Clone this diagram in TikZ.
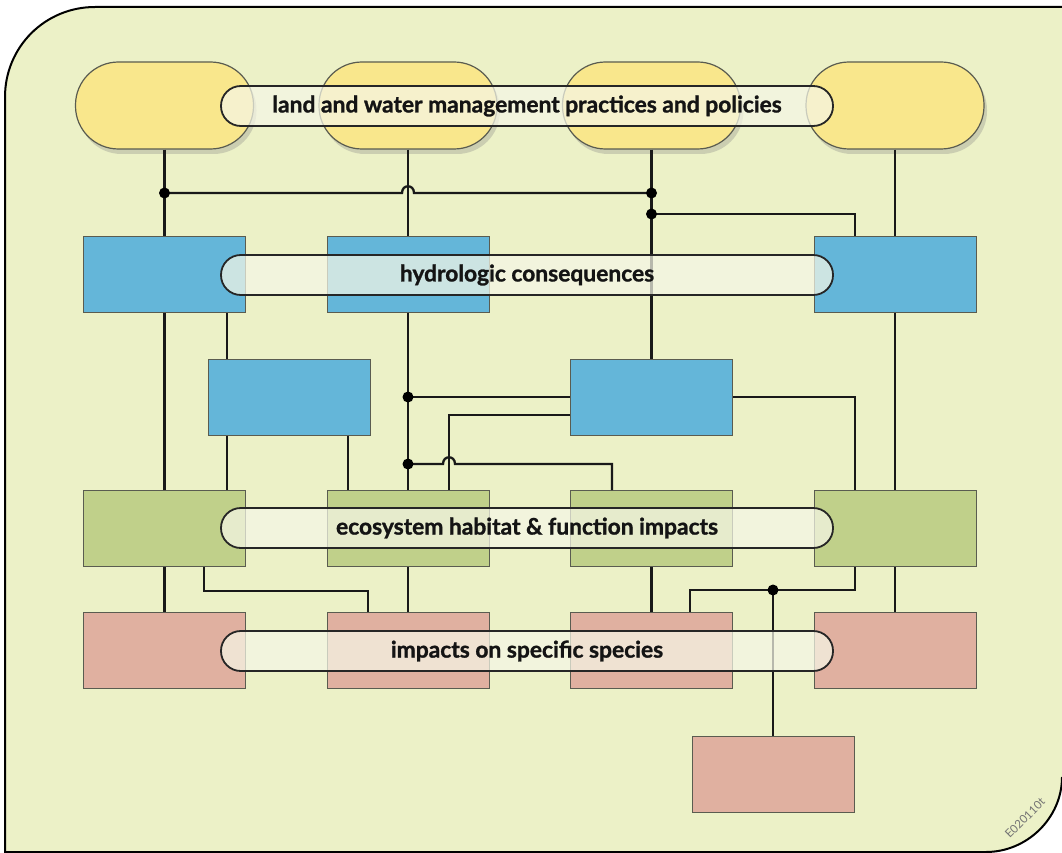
\documentclass[tikz,border=0pt]{standalone}
\usepackage{fontspec}
\setmainfont{Lato}
\newfontfamily\lblfont{Lato}[BoldFeatures={FakeBold=1.2}]
\usetikzlibrary{shadows}
\definecolor{bggreen}{RGB}{236,241,199}
\definecolor{mgmtyellow}{RGB}{249,231,140}
\definecolor{hydroblue}{RGB}{100,182,217}
\definecolor{ecogreen}{RGB}{192,208,138}
\definecolor{speciespink}{RGB}{224,176,160}
\definecolor{lblcream}{RGB}{245,246,230}
\definecolor{boxedge}{RGB}{90,92,80}

\begin{document}
\begin{tikzpicture}[x=1pt,y=-1pt,
  mgmt/.style={draw=boxedge, line width=1.2pt, fill=mgmtyellow, rounded corners=43pt,
    minimum width=178pt, minimum height=87pt,
    drop shadow={shadow xshift=3pt, shadow yshift=-5pt, opacity=0.3}},
  box/.style={draw=boxedge, line width=1pt, minimum width=162pt, minimum height=76pt},
  hydro/.style={box, fill=hydroblue},
  eco/.style={box, fill=ecogreen},
  spec/.style={box, fill=speciespink},
  lbl/.style={draw=black!85, line width=1.8pt, fill=lblcream, fill opacity=0.72, text opacity=1,
    rounded corners=19.8pt, minimum width=612pt, minimum height=40pt,
    font=\lblfont\bfseries\fontsize{22.8}{26}\selectfont, text=black!92},
  link/.style={line width=2.3pt, draw=black!90}]
\useasboundingbox (0,0) rectangle (1062,853);
% background panel
\fill[bggreen] (1062,7) -- (95,7) .. controls (45,7) and (5,47) .. (5,97) -- (5,852)
  -- (986,852) .. controls (1027,852) and (1062,818) .. (1062,777) -- cycle;
\draw[line width=2pt] (1062,7) -- (95,7) .. controls (45,7) and (5,47) .. (5,97) -- (5,852)
  -- (986,852) .. controls (1027,852) and (1062,818) .. (1062,777);

% practices and policies
\node[mgmt] (p1) at (164.5,105.5) {};
\node[mgmt] (p2) at (408,105.5) {};
\node[mgmt] (p3) at (651.5,105.5) {};
\node[mgmt] (p4) at (895,105.5) {};

% hydrologic consequences
\node[hydro] (h1) at (164.5,274) {};
\node[hydro] (h2) at (408,274) {};
\node[hydro] (h4) at (895,274) {};
\node[hydro] (hA) at (289,397) {};
\node[hydro] (hB) at (651.5,397) {};

% ecosystem impacts
\node[eco] (e1) at (164.5,528.5) {};
\node[eco] (e2) at (408,528.5) {};
\node[eco] (e3) at (651.5,528.5) {};
\node[eco] (e4) at (895,528.5) {};

% species impacts
\node[spec] (s1) at (164.5,650.5) {};
\node[spec] (s2) at (408,650.5) {};
\node[spec] (s3) at (651.5,650.5) {};
\node[spec] (s4) at (895,650.5) {};
\node[spec] (s5) at (773,774) {};

% junctions
\coordinate (j1) at (164.5,193);
\coordinate (j2) at (651.5,193);
\coordinate (j3) at (651.5,214);
\coordinate (j4) at (408,397);
\coordinate (j5) at (408,464);
\coordinate (j6) at (773,590);

% links
\draw[link] (p1.south) -- (h1.north);
\draw[link] (p2.south) -- (h2.north);
\draw[link] (p3.south) -- (hB.north);
\draw[link] (p4.south) -- (h4.north);
\draw[link] (j1) -- (402,193) .. controls (402,184) and (414,184) .. (414,193) -- (j2);
\draw[link] (j3) -| ([xshift=-40pt]h4.north);
\draw[link] (h1.south) -- (e1.north);
\draw[link] ([xshift=-62pt]hA.north) -- ([xshift=-62pt]hA.north |- h1.south);
\draw[link] ([xshift=-62pt]hA.south) -- ([xshift=-62pt]hA.south |- e1.north);
\draw[link] ([xshift=59pt]hA.south) -- ([xshift=59pt]hA.south |- e2.north);
\draw[link] (h2.south) -- (e2.north);
\draw[link] (j4) -- (hB.west);
\draw[link] ([yshift=-18pt]hB.west) -| ([xshift=41pt]e2.north);
\draw[link] (j5) -- (443,464) .. controls (443,455) and (455,455) .. (455,464) -| ([xshift=-39.5pt]e3.north);
\draw[link] (hB.east) -| ([xshift=-40pt]e4.north);
\draw[link] (h4.south) -- (e4.north);
\draw[link] (e1.south) -- (s1.north);
\draw[link] ([xshift=39.5pt]e1.south) -- ++(0,24) -| ([xshift=-40pt]s2.north);
\draw[link] (e2.south) -- (s2.north);
\draw[link] (e3.south) -- (s3.north);
\draw[link] ([xshift=-40pt]e4.south) |- (j6) -| ([xshift=38.5pt]s3.north);
\draw[link] (j6) -- (s5.north);
\draw[link] (e4.south) -- (s4.north);
\fill (j1) circle[radius=5.5pt];
\fill (j2) circle[radius=5.5pt];
\fill (j3) circle[radius=5.5pt];
\fill (j4) circle[radius=5.5pt];
\fill (j5) circle[radius=5.5pt];
\fill (j6) circle[radius=5.5pt];

% row labels
\node[lbl] (lblM) at (527,106) {land and water management practices and policies};
\node[lbl] (lblH) at (527,275) {hydrologic consequences};
\node[lbl] (lblE) at (527,528) {ecosystem habitat \& function impacts};
\node[lbl] (lblS) at (527,651) {impacts on specific species};

\node[text=black!55, font=\fontsize{11.5}{13}\selectfont] (stamp) at (1025,818) {\rotatebox{45}{E020110t}};
\end{tikzpicture}
\end{document}
